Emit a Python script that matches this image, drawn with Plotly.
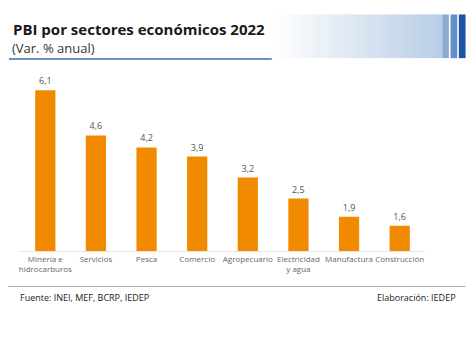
import plotly.graph_objects as go

sectores = ["Minería e<br>hidrocarburos", "Servicios", "Pesca", "Comercio", "Agropecuario",
            "Electricidad<br>y agua", "Manufactura", "Construcción"]
valores = [6.1, 4.6, 4.2, 3.9, 3.2, 2.5, 1.9, 1.6]
etiquetas = ["6,1", "4,6", "4,2", "3,9", "3,2", "2,5", "1,9", "1,6"]

FONT = "Open Sans"
W, H = 474, 352

fig = go.Figure(go.Bar(
    x=sectores, y=valores, text=etiquetas, textposition="outside",
    textfont=dict(family=FONT, size=9, color="#555555"),
    marker=dict(color="#F28A00", line=dict(width=0)),
    cliponaxis=False, hoverinfo="skip",
))

fig.update_layout(
    width=W, height=H,
    margin=dict(l=20, r=48.6, t=81.3, b=101.3),
    paper_bgcolor="white", plot_bgcolor="white",
    bargap=0.6, showlegend=False,
    xaxis=dict(showgrid=False, ticks="", tickfont=dict(family=FONT, size=8, color="#666666"),
               showline=True, linecolor="#e6e6e6", linewidth=1, tickangle=0),
    yaxis=dict(range=[0.758, 6.41], visible=False, showgrid=False, zeroline=False),
)

pl, pr, pt, pb = 20, 474 - 48.6, 81.3, 352 - 101.3
pw, ph = pr - pl, pb - pt
def px(x):
    return (x - pl) / pw
def py(y):
    return (pb - y) / ph

x0, x1 = 273, 442
n = 60
c0 = (255, 255, 255)
c1 = (185, 205, 230)
shapes = []
for i in range(n):
    t = i / (n - 1)
    col = tuple(int(round(c0[k] + (c1[k] - c0[k]) * t)) for k in range(3))
    xa = x0 + (x1 - x0) * i / n
    xb = x0 + (x1 - x0) * (i + 1) / n + 0.6
    shapes.append(dict(type="rect", xref="paper", yref="paper", layer="below",
                       x0=px(xa), x1=px(xb), y0=py(58.5), y1=py(15),
                       line=dict(width=0), fillcolor="rgb(%d,%d,%d)" % col))
for (a, b, c) in [(442.7, 449.3, "#8eabd2"), (451, 457.7, "#628fc6"), (459.3, 466, "#1c55a5")]:
    shapes.append(dict(type="rect", xref="paper", yref="paper",
                       x0=px(a), x1=px(b), y0=py(58.5), y1=py(15),
                       line=dict(width=0), fillcolor=c))
shapes.append(dict(type="line", xref="paper", yref="paper",
                   x0=px(9), x1=px(272), y0=py(59.5), y1=py(59.5),
                   line=dict(color="#3a6db5", width=1.5)))
shapes.append(dict(type="line", xref="paper", yref="paper",
                   x0=px(8), x1=px(466), y0=py(286), y1=py(286),
                   line=dict(color="#a8a8a8", width=1)))

annotations = [
    dict(text="<b>PBI por sectores económicos 2022</b>", xref="paper", yref="paper",
         x=px(11), y=py(29), xanchor="left", yanchor="middle", showarrow=False,
         font=dict(family=FONT, size=15, color="#1a1a1a")),
    dict(text="(Var. % anual)", xref="paper", yref="paper",
         x=px(10), y=py(48), xanchor="left", yanchor="middle", showarrow=False,
         font=dict(family=FONT, size=13, color="#333333")),
    dict(text="Fuente: INEI, MEF, BCRP, IEDEP", xref="paper", yref="paper",
         x=px(18), y=py(297), xanchor="left", yanchor="middle", showarrow=False,
         font=dict(family=FONT, size=9, color="#1a1a1a")),
    dict(text="Elaboración: IEDEP", xref="paper", yref="paper",
         x=px(458), y=py(297), xanchor="right", yanchor="middle", showarrow=False,
         font=dict(family=FONT, size=9, color="#1a1a1a")),
]

fig.update_layout(shapes=shapes, annotations=annotations)
fig.write_html("out.html")
